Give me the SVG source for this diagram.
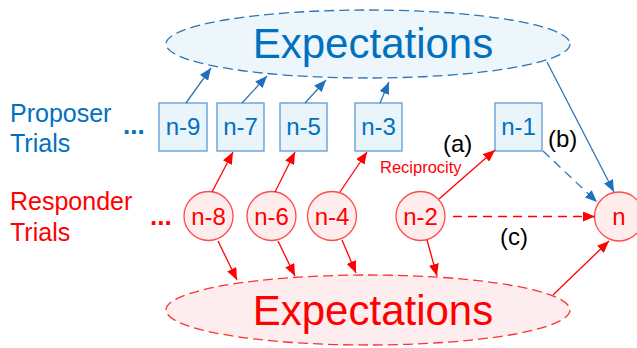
<svg xmlns="http://www.w3.org/2000/svg" width="637" height="348" viewBox="0 0 637 348">
<style>
text{font-family:"Liberation Sans",Arial,sans-serif}
.bt{fill:#0070C0}
.rt{fill:#FF0000}
.box{fill:#EAF4FB;stroke:#5B9BD5;stroke-width:1.3}
.cir{fill:#FFEDED;stroke:#FF4B4B;stroke-width:1.3}
.nl{font-size:24px;text-anchor:middle}
.bl{stroke:#2E75B6;stroke-width:1.3;fill:none}
.rl{stroke:#FF0000;stroke-width:1.3;fill:none}
.lab{font-size:24px;fill:#000}
</style>
<defs>
<marker id="ab" viewBox="0 0 12 10" refX="12" refY="5" markerWidth="12" markerHeight="10" markerUnits="userSpaceOnUse" orient="auto"><path d="M0,0 L12,5 L0,10 z" fill="#1F6FBF"/></marker>
<marker id="ar" viewBox="0 0 12 10" refX="12" refY="5" markerWidth="12" markerHeight="10" markerUnits="userSpaceOnUse" orient="auto"><path d="M0,0 L12,5 L0,10 z" fill="#FF0000"/></marker>
</defs>

<g id="exp-top">
<ellipse cx="368" cy="44" rx="202" ry="34" fill="#EDF6FB" stroke="#2E75B6" stroke-width="1.3" stroke-dasharray="10,5"/>
<text x="373" y="58" class="bt" font-size="42" text-anchor="middle">Expectations</text>
</g>
<g id="exp-bottom">
<ellipse cx="368" cy="310" rx="202" ry="35" fill="#FDEDEE" stroke="#FF3030" stroke-width="1.3" stroke-dasharray="10,5"/>
<text x="373" y="325" class="rt" font-size="42" text-anchor="middle">Expectations</text>
</g>

<g id="label-proposer">
<text x="10" y="122" class="bt" font-size="25">Proposer</text>
<text x="10" y="152" class="bt" font-size="25">Trials</text>
<text x="123" y="134" class="bt" font-size="26" font-weight="bold">...</text>
</g>
<g id="label-responder">
<text x="10" y="210" class="rt" font-size="25">Responder</text>
<text x="10" y="241" class="rt" font-size="25">Trials</text>
<text x="150" y="225" class="rt" font-size="26" font-weight="bold">...</text>
</g>

<g id="n-9"><rect x="159" y="103" width="48" height="48" class="box"/><text x="183" y="135" class="nl bt">n-9</text></g>
<g id="n-7"><rect x="217" y="103" width="47" height="48" class="box"/><text x="240.5" y="135" class="nl bt">n-7</text></g>
<g id="n-5"><rect x="280" y="103" width="47" height="48" class="box"/><text x="303.5" y="135" class="nl bt">n-5</text></g>
<g id="n-3"><rect x="355" y="103" width="47" height="48" class="box"/><text x="378.5" y="135" class="nl bt">n-3</text></g>
<g id="n-1"><rect x="495" y="103" width="47" height="48" class="box"/><text x="518.5" y="135" class="nl bt">n-1</text></g>

<g id="n-8"><circle cx="208.5" cy="216" r="24.5" class="cir"/><text x="208.5" y="225" class="nl rt">n-8</text></g>
<g id="n-6"><circle cx="271.5" cy="216" r="24.5" class="cir"/><text x="271.5" y="225" class="nl rt">n-6</text></g>
<g id="n-4"><circle cx="332" cy="216" r="24.5" class="cir"/><text x="332" y="225" class="nl rt">n-4</text></g>
<g id="n-2"><circle cx="420.5" cy="216" r="24.5" class="cir"/><text x="420.5" y="225" class="nl rt">n-2</text></g>
<g id="n"><circle cx="619" cy="216.5" r="24.5" class="cir"/><text x="619" y="225" class="nl rt">n</text></g>

<g id="connectors">
<line x1="186" y1="103" x2="211" y2="68" class="bl" marker-end="url(#ab)"/>
<line x1="242" y1="103" x2="267" y2="76" class="bl" marker-end="url(#ab)"/>
<line x1="305" y1="103" x2="326" y2="80" class="bl" marker-end="url(#ab)"/>
<line x1="380" y1="103" x2="389" y2="82" class="bl" marker-end="url(#ab)"/>
<line x1="547" y1="62" x2="614" y2="192" class="bl" marker-end="url(#ab)"/>
<line x1="543" y1="151" x2="597" y2="202" class="bl" stroke-dasharray="9,6" marker-end="url(#ab)"/>

<line x1="212" y1="192" x2="233" y2="152" class="rl" marker-end="url(#ar)"/>
<line x1="275" y1="192" x2="295" y2="152" class="rl" marker-end="url(#ar)"/>
<line x1="340" y1="192" x2="367" y2="152" class="rl" marker-end="url(#ar)"/>
<line x1="439" y1="199" x2="495" y2="150" class="rl" marker-end="url(#ar)"/>
<line x1="453" y1="216.5" x2="595" y2="216.5" class="rl" stroke-dasharray="9,6" marker-end="url(#ar)"/>
<line x1="553" y1="295" x2="609" y2="241" class="rl" marker-end="url(#ar)"/>

<line x1="218" y1="241" x2="237" y2="280" class="rl" marker-end="url(#ar)"/>
<line x1="278" y1="241" x2="295" y2="276" class="rl" marker-end="url(#ar)"/>
<line x1="342" y1="240" x2="356" y2="273" class="rl" marker-end="url(#ar)"/>
<line x1="427" y1="240" x2="437" y2="276" class="rl" marker-end="url(#ar)"/>
</g>

<g id="labels">
<text x="443" y="152" class="lab">(a)</text>
<text x="548" y="147" class="lab">(b)</text>
<text x="500" y="245" class="lab">(c)</text>
<text x="380" y="173" class="rt" font-size="16.5">Reciprocity</text>
</g>
</svg>
